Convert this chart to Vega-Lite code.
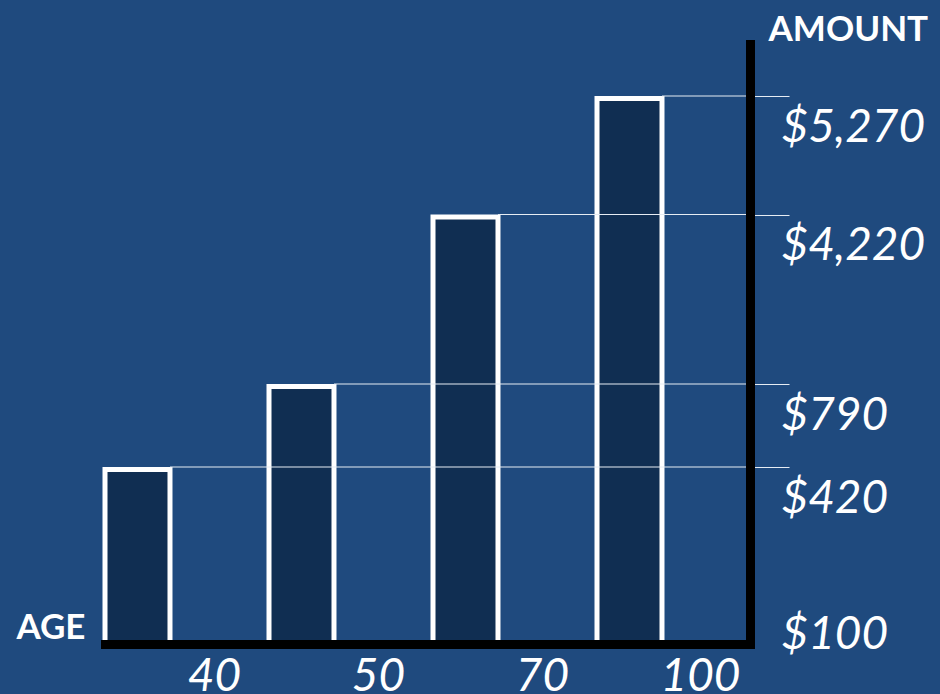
{
  "$schema": "https://vega.github.io/schema/vega-lite/v6.json",
  "width": 645,
  "height": 600,
  "autosize": {"type": "none"},
  "padding": {"left": 105, "top": 44, "right": 190, "bottom": 50},
  "background": "#1f4a7e",
  "config": {"view": {"stroke": null}},
  "data": {
    "values": [
      {"age": 40, "amount": 420},
      {"age": 50, "amount": 790},
      {"age": 70, "amount": 4220},
      {"age": 100, "amount": 5270}
    ]
  },
  "encoding": {
    "x": {
      "field": "age",
      "type": "ordinal",
      "scale": {"paddingInner": 0.6037, "paddingOuter": 0.2683, "align": 0},
      "axis": {
        "orient": "bottom",
        "zindex": 1,
        "title": "AGE",
        "ticks": false,
        "tickSize": 0,
        "domainColor": "black",
        "domainWidth": 9,
        "domainCap": "square",
        "labelFont": "Lato",
        "labelFontStyle": "italic",
        "labelFontSize": 46,
        "labelColor": "white",
        "labelAngle": 0,
        "labelAlign": "center",
        "labelBaseline": "alphabetic",
        "labelPadding": 46,
        "labelOffset": {"condition": {"test": "datum.value == 100", "value": 71}, "value": 77},
        "labelOverlap": false,
        "labelFlush": false,
        "labelBound": false,
        "titleX": -20,
        "titleY": -6,
        "titleAlign": "right",
        "titleBaseline": "alphabetic",
        "titleFont": "Lato",
        "titleFontWeight": "bold",
        "titleFontSize": 35,
        "titleColor": "white"
      }
    },
    "y": {
      "field": "amount",
      "type": "quantitative",
      "scale": {
        "type": "linear",
        "domain": [100, 420, 790, 4220, 5270, 6000],
        "range": [600, 423, 340, 170.5, 52, 0],
        "zero": false,
        "nice": false
      },
      "axis": {
        "orient": "right",
        "zindex": 1,
        "values": [100, 420, 790, 4220, 5270],
        "labelExpr": "'$' + format(datum.value, ',')",
        "grid": false,
        "domainColor": "black",
        "domainWidth": 9,
        "domainCap": "square",
        "tickColor": {"condition": {"test": "datum.value == 100", "value": "transparent"}, "value": "#e6ecf3"},
        "tickWidth": 1,
        "tickSize": 39,
        "labelFont": "Lato",
        "labelFontStyle": "italic",
        "labelFontSize": 46,
        "labelColor": "white",
        "labelAlign": "left",
        "labelBaseline": "alphabetic",
        "labelPadding": -8,
        "labelOffset": {"condition": {"test": "datum.value == 100", "value": 4}, "value": 45},
        "labelOverlap": false,
        "labelFlush": false,
        "labelBound": false,
        "title": "AMOUNT",
        "titleAngle": 0,
        "titleX": 18,
        "titleY": -4,
        "titleAlign": "left",
        "titleBaseline": "alphabetic",
        "titleFont": "Lato",
        "titleFontWeight": "bold",
        "titleFontSize": 35,
        "titleColor": "white"
      }
    }
  },
  "layer": [
    {
      "mark": {"type": "bar", "fill": "#102e52", "stroke": "white", "strokeWidth": 5, "yOffset": 2.5},
      "encoding": {"y2": {"datum": 100}}
    },
    {
      "mark": {"type": "rule", "color": "#e6ecf3", "strokeWidth": 1},
      "encoding": {
        "x": {"field": "age", "type": "ordinal", "bandPosition": 1, "title": "AGE"},
        "x2": {"value": "width"}
      }
    }
  ]
}
